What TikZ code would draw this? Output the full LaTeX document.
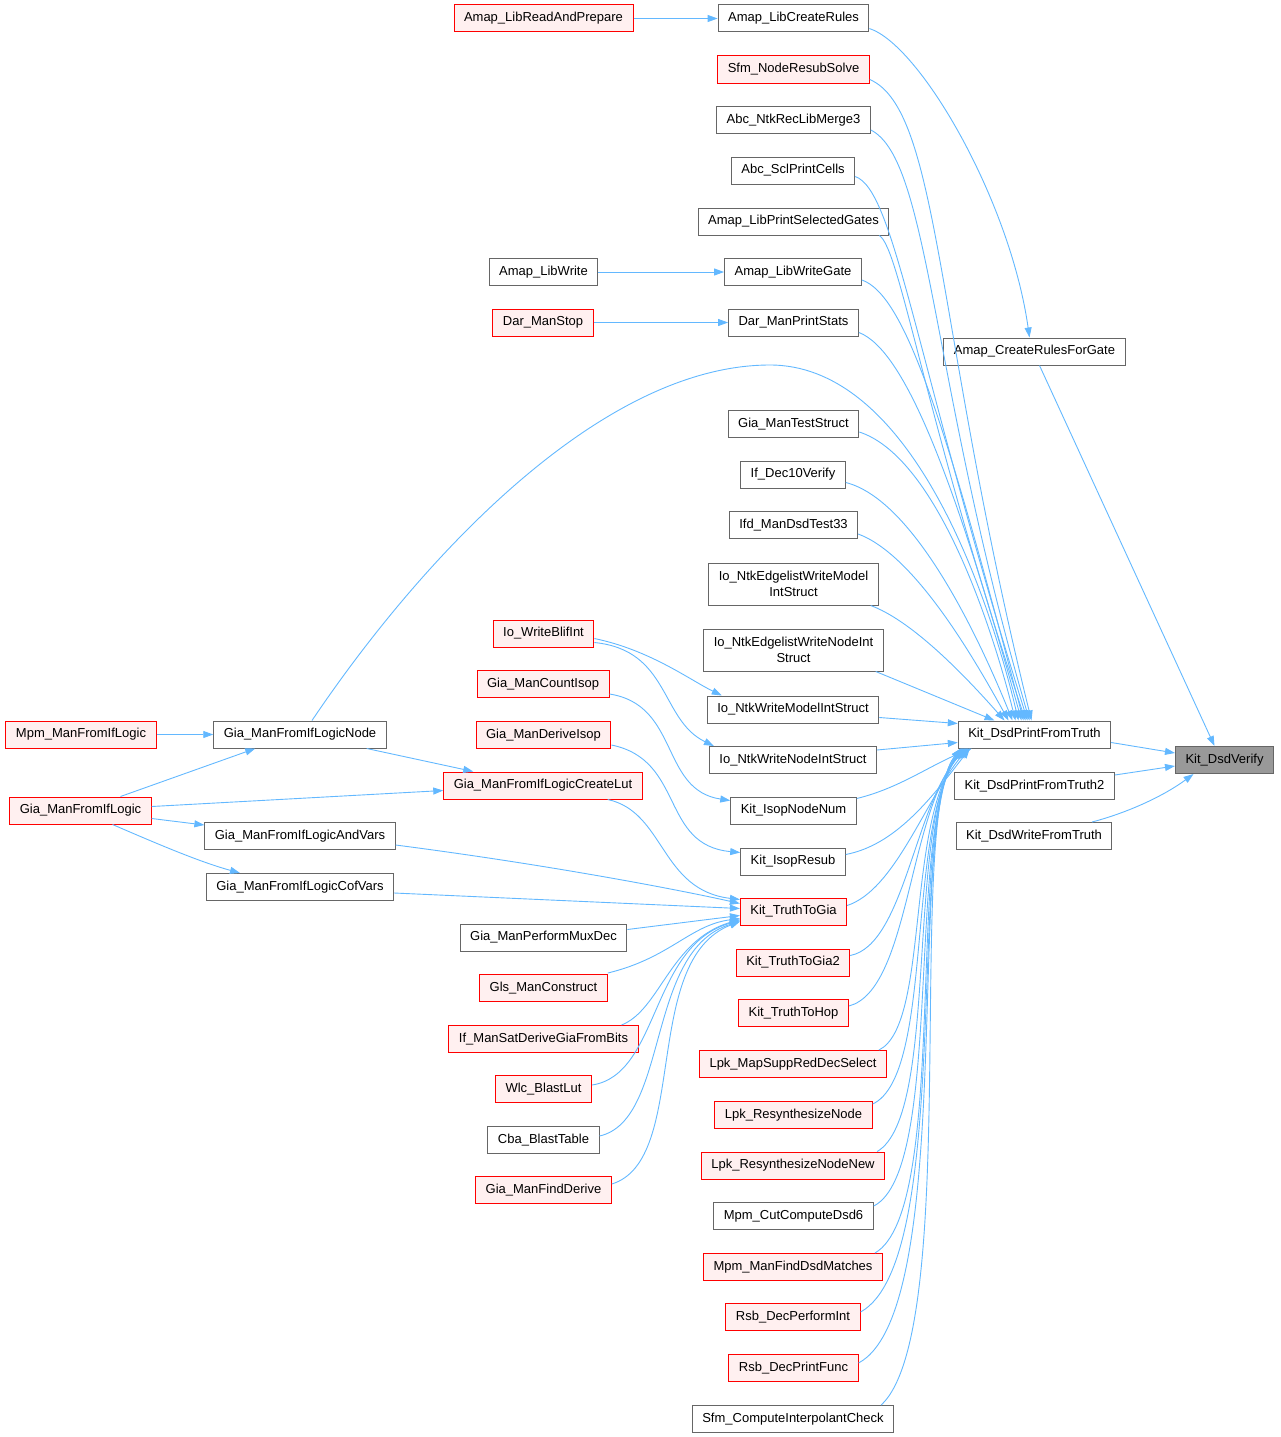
\documentclass[tikz,border=0pt]{standalone}
\usepackage{fontspec}
\setmainfont{Liberation Sans}
\usetikzlibrary{arrows.meta,calc}
\definecolor{edgec}{HTML}{63B8FF}
\definecolor{boxgray}{HTML}{666666}
\definecolor{redfill}{HTML}{FFF0F0}
\definecolor{redline}{HTML}{FF0000}
\definecolor{rootfill}{HTML}{999999}
\begin{document}
\begin{tikzpicture}[x=1pt,y=-1pt,
  box/.style={draw=boxgray,fill=white,line width=1pt,minimum height=27pt,inner xsep=10pt,inner ysep=2pt,font=\fontsize{13}{16}\selectfont,align=center},
  redbox/.style={box,draw=redline,fill=redfill},
  rootbox/.style={box,fill=rootfill},
  twoline/.style={minimum height=42pt},
  edge/.style={draw=edgec,line width=0.9pt,-{Triangle[length=10pt,width=7pt]}}]
\useasboundingbox (0,0) rectangle (1281,1437);

% right column
\node[box] (lcr) at (793.5,18.5) {Amap\_LibCreateRules};
\node[redbox] (sfmn) at (793.5,69.5) {Sfm\_NodeResubSolve};
\node[box] (abcm) at (793.5,120) {Abc\_NtkRecLibMerge3};
\node[box] (abcs) at (793,170.5) {Abc\_SclPrintCells};
\node[box] (lpsg) at (793.5,221.5) {Amap\_LibPrintSelectedGates};
\node[box] (lwg) at (793,272) {Amap\_LibWriteGate};
\node[box] (dmp) at (793.5,322.5) {Dar\_ManPrintStats};
\node[box] (gts) at (793.5,424) {Gia\_ManTestStruct};
\node[box] (ifd) at (793,474.5) {If\_Dec10Verify};
\node[box] (ifdm) at (793.5,525) {Ifd\_ManDsdTest33};
\node[box,twoline] (ioem) at (793.5,584) {Io\_NtkEdgelistWriteModel\\IntStruct};
\node[box,twoline] (ioen) at (793.5,650) {Io\_NtkEdgelistWriteNodeInt\\Struct};
\node[box] (iowm) at (793,709.5) {Io\_NtkWriteModelIntStruct};
\node[box] (iown) at (793,760) {Io\_NtkWriteNodeIntStruct};
\node[box] (kin) at (793.5,810.5) {Kit\_IsopNodeNum};
\node[box] (kir) at (793,861.5) {Kit\_IsopResub};
\node[redbox] (ktg) at (793.5,911.5) {Kit\_TruthToGia};
\node[redbox] (ktg2) at (793,962.5) {Kit\_TruthToGia2};
\node[redbox] (kth) at (793.5,1013) {Kit\_TruthToHop};
\node[redbox] (lmsr) at (793,1064) {Lpk\_MapSuppRedDecSelect};
\node[redbox] (lrn) at (793.5,1115) {Lpk\_ResynthesizeNode};
\node[redbox] (lrnn) at (793,1165.5) {Lpk\_ResynthesizeNodeNew};
\node[box] (mcd) at (793.5,1216) {Mpm\_CutComputeDsd6};
\node[redbox] (mfd) at (793,1267) {Mpm\_ManFindDsdMatches};
\node[redbox] (rdpi) at (793,1317) {Rsb\_DecPerformInt};
\node[redbox] (rdpf) at (793.5,1368) {Rsb\_DecPrintFunc};
\node[box] (sfci) at (793,1419) {Sfm\_ComputeInterpolantCheck};

% far right
\node[box] (crg) at (1034.5,351.5) {Amap\_CreateRulesForGate};
\node[box] (kdp) at (1034.5,734.5) {Kit\_DsdPrintFromTruth};
\node[rootbox] (kdv) at (1224.5,760) {Kit\_DsdVerify};
\node[box] (kdp2) at (1034.5,786) {Kit\_DsdPrintFromTruth2};
\node[box] (kdw) at (1034,836) {Kit\_DsdWriteFromTruth};

% middle column
\node[redbox] (lrap) at (543.5,18.5) {Amap\_LibReadAndPrepare};
\node[box] (lw) at (543.5,272) {Amap\_LibWrite};
\node[redbox] (dms) at (543,322.5) {Dar\_ManStop};
\node[redbox] (iowb) at (543.5,633.5) {Io\_WriteBlifInt};
\node[redbox] (gci) at (543,684) {Gia\_ManCountIsop};
\node[redbox] (gdi) at (543.5,735) {Gia\_ManDeriveIsop};
\node[redbox] (gcl) at (543,785.5) {Gia\_ManFromIfLogicCreateLut};
\node[box] (gpm) at (543.5,937.5) {Gia\_ManPerformMuxDec};
\node[redbox] (glc) at (543.5,988) {Gls\_ManConstruct};
\node[redbox] (isd) at (543.5,1039) {If\_ManSatDeriveGiaFromBits};
\node[redbox] (wbl) at (543.5,1089) {Wlc\_BlastLut};
\node[box] (cbt) at (543.5,1140) {Cba\_BlastTable};
\node[redbox] (gfd) at (543.5,1190) {Gia\_ManFindDerive};

% left
\node[redbox] (mfl) at (81,734.5) {Mpm\_ManFromIfLogic};
\node[box] (gfln) at (300,734.5) {Gia\_ManFromIfLogicNode};
\node[redbox] (gfl) at (80.5,810.5) {Gia\_ManFromIfLogic};
\node[box] (gfla) at (300,836) {Gia\_ManFromIfLogicAndVars};
\node[box] (gflc) at (300,887) {Gia\_ManFromIfLogicCofVars};

% simple edges
\draw[edge] (lrap) -- (lcr);
\draw[edge] (lw) -- (lwg);
\draw[edge] (dms) -- (dmp);
\draw[edge] (mfl) -- (gfln);
\draw[edge] ($(lcr.east)+(0,10)$) .. controls (920,45) and (1010,200) .. ($(crg.north)+(-5,0)$);
\draw[edge] ($(crg.south)+(5,0)$) -- ($(kdv.north)+(-10,0)$);
\draw[edge] ($(kdp.east)+(0,8)$) -- ($(kdv.west)+(0,-7)$);
\draw[edge] ($(kdp2.east)+(0,-11)$) -- ($(kdv.west)+(0,6)$);
\draw[edge] ($(kdw.north)+(58,0)$) .. controls (1130,812) and (1165,795) .. ($(kdv.south)+(-31,0)$);

% upper edges into Kit_DsdPrintFromTruth
\draw[edge] ($(sfmn.east)+(0,10)$) .. controls (940,110) and (935,330) .. ($(kdp.north)+(-3,0)$);
\draw[edge] ($(abcm.east)+(0,10)$) .. controls (930,160) and (930,380) .. ($(kdp.north)+(-5,0)$);
\draw[edge] ($(abcs.east)+(0,6)$) .. controls (895,190) and (915,360) .. ($(kdp.north)+(-7,0)$);
\draw[edge] ($(lpsg.south east)+(-10,0)$) .. controls (900,248) and (925,420) .. ($(kdp.north)+(-9,0)$);
\draw[edge] ($(lwg.east)+(0,8)$) .. controls (905,295) and (945,420) .. ($(kdp.north)+(-11,0)$);
\draw[edge] ($(dmp.east)+(0,10)$) .. controls (905,350) and (955,480) .. ($(kdp.north)+(-13,0)$);
\draw[edge] ($(gfln.north)+(12,0)$) .. controls (420,560) and (600,365) .. (770,365) .. controls (900,365) and (980,560) .. ($(kdp.north)+(-16,0)$);
\draw[edge] ($(gts.east)+(0,8)$) .. controls (930,455) and (985,600) .. ($(kdp.north)+(-19,0)$);
\draw[edge] ($(ifd.east)+(0,8)$) .. controls (915,500) and (980,640) .. ($(kdp.north)+(-22,0)$);
\draw[edge] ($(ifdm.east)+(0,9)$) .. controls (915,555) and (975,660) .. ($(kdp.north)+(-26,0)$);
\draw[edge] ($(ioem.south east)+(-8,0)$) .. controls (910,620) and (960,670) .. ($(kdp.north)+(-30,0)$);
\draw[edge] ($(ioen.south east)+(-8,0)$) -- ($(kdp.north)+(-40,0)$);
\draw[edge] ($(iowm.east)+(0,8)$) -- ($(kdp.west)+(0,-11)$);
\draw[edge] ($(iown.east)+(0,-10)$) -- ($(kdp.west)+(0,8)$);

% lower edges into Kit_DsdPrintFromTruth
\draw[edge] ($(kin.north east)+(0,2)$) .. controls (900,788) and (930,765) .. ($(kdp.south west)+(14,0)$);
\draw[edge] ($(kir.east)+(0,-7)$) .. controls (895,845) and (930,800) .. ($(kdp.south west)+(12,0)$);
\draw[edge] ($(ktg.east)+(0,-6)$) .. controls (895,890) and (925,800) .. ($(kdp.south west)+(10,0)$);
\draw[edge] ($(ktg2.east)+(0,-7)$) .. controls (905,945) and (915,800) .. ($(kdp.south west)+(9,0)$);
\draw[edge] ($(kth.east)+(0,-7)$) .. controls (910,990) and (908,810) .. ($(kdp.south west)+(8,0)$);
\draw[edge] ($(lmsr.north east)+(-8,0)$) .. controls (930,1025) and (905,820) .. ($(kdp.south west)+(7,0)$);
\draw[edge] ($(lrn.east)+(0,-11)$) .. controls (935,1075) and (905,825) .. ($(kdp.south west)+(6,0)$);
\draw[edge] ($(lrnn.north east)+(-8,0)$) .. controls (940,1115) and (905,825) .. ($(kdp.south west)+(5,0)$);
\draw[edge] ($(mcd.east)+(0,-10)$) .. controls (945,1170) and (905,825) .. ($(kdp.south west)+(5,0)$);
\draw[edge] ($(mfd.north east)+(-8,0)$) .. controls (950,1210) and (905,825) .. ($(kdp.south west)+(4,0)$);
\draw[edge] ($(rdpi.east)+(0,-5)$) .. controls (955,1260) and (905,825) .. ($(kdp.south west)+(4,0)$);
\draw[edge] ($(rdpf.east)+(0,-5)$) .. controls (958,1310) and (905,820) .. ($(kdp.south west)+(3,0)$);
\draw[edge] ($(sfci.north east)+(-13,0)$) .. controls (962,1330) and (905,820) .. ($(kdp.south west)+(3,0)$);

% middle edges
\draw[edge] ($(iowb.east)+(0,5)$) .. controls (650,650) and (690,680) .. ($(iowm.north west)+(15,0)$);
\draw[edge] ($(iowb.east)+(0,9)$) .. controls (670,650) and (660,720) .. ($(iown.north west)+(5,0)$);
\draw[edge] ($(gci.east)+(0,10)$) .. controls (680,705) and (660,790) .. ($(kin.west)+(0,-10)$);
\draw[edge] ($(gdi.east)+(0,10)$) .. controls (685,760) and (660,845) .. ($(kir.west)+(0,-9)$);
\draw[edge] ($(gcl.south east)+(-35,0)$) .. controls (665,812) and (660,890) .. ($(ktg.west)+(0,-12)$);
\draw[edge] ($(gfla.east)+(0,9)$) .. controls (550,865) and (680,890) .. ($(ktg.west)+(0,-8)$);
\draw[edge] ($(gflc.east)+(0,6)$) -- ($(ktg.west)+(0,-3)$);
\draw[edge] ($(gpm.east)+(0,-8)$) -- ($(ktg.west)+(0,4)$);
\draw[edge] ($(glc.east)+(0,-15)$) .. controls (670,958) and (690,925) .. ($(ktg.west)+(0,7)$);
\draw[edge] ($(isd.north east)+(-17,0)$) .. controls (660,1010) and (670,940) .. ($(ktg.west)+(0,8)$);
\draw[edge] ($(wbl.east)+(0,-4)$) .. controls (660,1075) and (650,945) .. ($(ktg.west)+(0,9)$);
\draw[edge] ($(cbt.east)+(0,-4)$) .. controls (670,1120) and (645,950) .. ($(ktg.west)+(0,10)$);
\draw[edge] ($(gfd.east)+(0,-6)$) .. controls (690,1160) and (640,960) .. ($(ktg.west)+(0,10)$);

% left edges
\draw[edge] ($(gfl.north)+(40,0)$) -- ($(gfln.south west)+(42,0)$);
\draw[edge] ($(gfl.east)+(0,-4)$) -- ($(gcl.west)+(0,5)$);
\draw[edge] ($(gfl.east)+(0,8)$) -- ($(gfla.west)+(0,-11)$);
\draw[edge] ($(gfl.south)+(32,0)$) .. controls (160,845) and (200,862) .. ($(gflc.north)+(-60,0)$);
\draw[edge] ($(gfln.south east)+(-20,0)$) -- ($(gcl.north west)+(30,0)$);
\end{tikzpicture}
\end{document}
